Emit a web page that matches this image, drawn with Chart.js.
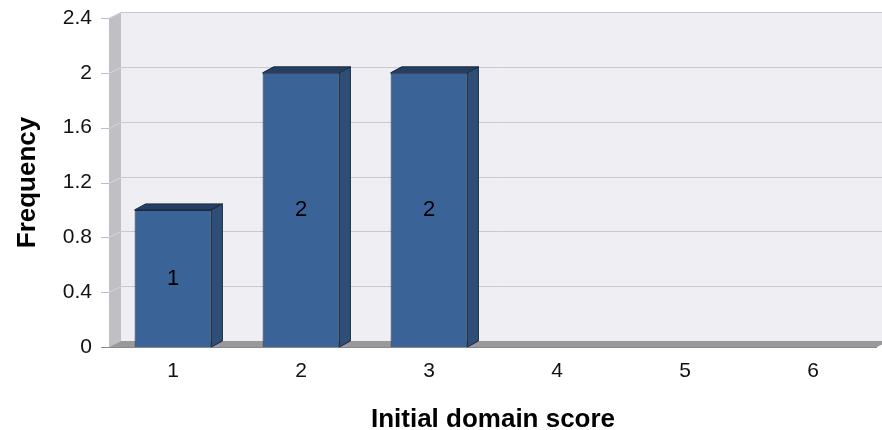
<!DOCTYPE html>
<html><head><meta charset="utf-8">
<script src="https://cdn.jsdelivr.net/npm/chart.js@4.4.0/dist/chart.umd.min.js"></script>
<style>html,body{margin:0;padding:0;background:#fff}#wrap{width:882px;height:430px}</style>
</head><body><div id="wrap"><canvas id="c" width="882" height="430"></canvas></div>
<script>
const categories = ['1', '2', '3', '4', '5', '6'];
const frequencies = [1, 2, 2, 0, 0, 0];
const yTickValues = [0, 0.4, 0.8, 1.2, 1.6, 2, 2.4];
const yTickLabels = ['0', '0.4', '0.8', '1.2', '1.6', '2', '2.4'];
const xTitle = 'Initial domain score';
const yTitle = 'Frequency';

const FONT = "'Liberation Sans', Arial, sans-serif";
const WALL = {x: 12, y: -6};
const BAR = {x: 11, y: -6};

const threeD = {
  id: 'threeD',
  beforeDatasetsDraw(chart) {
    const {ctx, chartArea: ca, scales} = chart;
    const ys = scales.y;
    const L = ca.left, R = ca.right, T = ca.top, B = ca.bottom, W = chart.width;
    ctx.save();
    // back wall
    ctx.fillStyle = '#EEEEF3';
    ctx.fillRect(L + WALL.x, T + WALL.y, W - (L + WALL.x), B - T);
    ctx.strokeStyle = '#D2D1DC';
    ctx.lineWidth = 1;
    ctx.beginPath();
    ctx.moveTo(L + WALL.x, Math.round(T + WALL.y) + 0.5);
    ctx.lineTo(W, Math.round(T + WALL.y) + 0.5);
    ctx.stroke();
    // gridlines
    yTickValues.forEach(v => {
      const py = Math.round(ys.getPixelForValue(v)) + 0.5;
      if (v > 0) {
        ctx.strokeStyle = '#C9C8D6';
        ctx.beginPath();
        ctx.moveTo(L + WALL.x, py + WALL.y);
        ctx.lineTo(W, py + WALL.y);
        ctx.stroke();
      }
    });
    // left wall
    ctx.fillStyle = '#C0C0C4';
    ctx.beginPath();
    ctx.moveTo(L, T);
    ctx.lineTo(L + WALL.x, T + WALL.y);
    ctx.lineTo(L + WALL.x, B + WALL.y);
    ctx.lineTo(L, B);
    ctx.closePath();
    ctx.fill();
    yTickValues.forEach(v => {
      const py = Math.round(ys.getPixelForValue(v)) + 0.5;
      ctx.strokeStyle = '#D4D3E0';
      ctx.beginPath();
      ctx.moveTo(L, py);
      ctx.lineTo(L + WALL.x, py + WALL.y);
      ctx.stroke();
      ctx.strokeStyle = '#BDBCCB';
      ctx.beginPath();
      ctx.moveTo(L - 8, py);
      ctx.lineTo(L, py);
      ctx.stroke();
    });
    // floor
    ctx.fillStyle = '#999999';
    ctx.beginPath();
    ctx.moveTo(L, B);
    ctx.lineTo(R, B);
    ctx.lineTo(R + WALL.x, B + WALL.y);
    ctx.lineTo(L + WALL.x, B + WALL.y);
    ctx.closePath();
    ctx.fill();
    ctx.strokeStyle = '#8A8A8A';
    ctx.beginPath();
    ctx.moveTo(L - 8, B + 0.5);
    ctx.lineTo(R, B + 0.5);
    ctx.stroke();
    ctx.restore();
  },
  afterDatasetsDraw(chart) {
    const {ctx} = chart;
    const meta = chart.getDatasetMeta(0);
    ctx.save();
    meta.data.forEach((bar, i) => {
      const v = frequencies[i];
      if (!v) return;
      const {x, y, base, width} = bar.getProps(['x', 'y', 'base', 'width'], true);
      const x0 = x - width / 2, x1 = x + width / 2;
      ctx.lineWidth = 1;
      ctx.strokeStyle = '#1B2A40';
      // top face
      ctx.fillStyle = '#253F62';
      ctx.beginPath();
      ctx.moveTo(x0, y);
      ctx.lineTo(x0 + BAR.x, y + BAR.y);
      ctx.lineTo(x1 + BAR.x, y + BAR.y);
      ctx.lineTo(x1, y);
      ctx.closePath();
      ctx.fill();
      ctx.stroke();
      // side face
      ctx.fillStyle = '#2E4E78';
      ctx.beginPath();
      ctx.moveTo(x1, y);
      ctx.lineTo(x1 + BAR.x, y + BAR.y);
      ctx.lineTo(x1 + BAR.x, base + BAR.y);
      ctx.lineTo(x1, base);
      ctx.closePath();
      ctx.fill();
      ctx.stroke();
      // label
      ctx.fillStyle = '#000';
      ctx.font = '22px ' + FONT;
      ctx.textAlign = 'center';
      ctx.textBaseline = 'middle';
      ctx.fillText(String(v), x, (y + base) / 2);
    });
    ctx.restore();
  }
};

new Chart(document.getElementById('c'), {
  type: 'bar',
  data: {
    labels: categories,
    datasets: [{
      data: frequencies,
      backgroundColor: '#3A6497',
      borderColor: '#1B2A40',
      borderWidth: 1,
      categoryPercentage: 1,
      barPercentage: 0.6
    }]
  },
  options: {
    responsive: false,
    devicePixelRatio: 1,
    animation: false,
    layout: {padding: {left: 0, right: 5, top: 18, bottom: 0}},
    plugins: {legend: {display: false}, tooltip: {enabled: false}},
    scales: {
      x: {
        grid: {display: false, drawTicks: false},
        border: {display: false},
        ticks: {color: '#111', font: {family: FONT, size: 21}, padding: 12},
        title: {display: true, text: xTitle, color: '#000',
                font: {family: FONT, size: 26, weight: 'bold', lineHeight: 0.77}, padding: 0},
        afterFit(s) { s.height = 83; s.paddingLeft = 0; s.paddingRight = 0; }
      },
      y: {
        min: 0, max: 2.4,
        grid: {display: false, drawTicks: false},
        border: {display: false},
        afterBuildTicks(s) { s.ticks = yTickValues.map(v => ({value: v})); },
        ticks: {color: '#111', font: {family: FONT, size: 21}, padding: 17,
                callback: (v, i) => yTickLabels[i]},
        title: {display: true, text: yTitle, color: '#000',
                font: {family: FONT, size: 26, weight: 'bold', lineHeight: 1}, padding: {top: 15, bottom: 0}},
        afterFit(s) { s.width = 109; s.paddingTop = 0; s.paddingBottom = 0; }
      }
    }
  },
  plugins: [threeD]
});
</script>
</body></html>
